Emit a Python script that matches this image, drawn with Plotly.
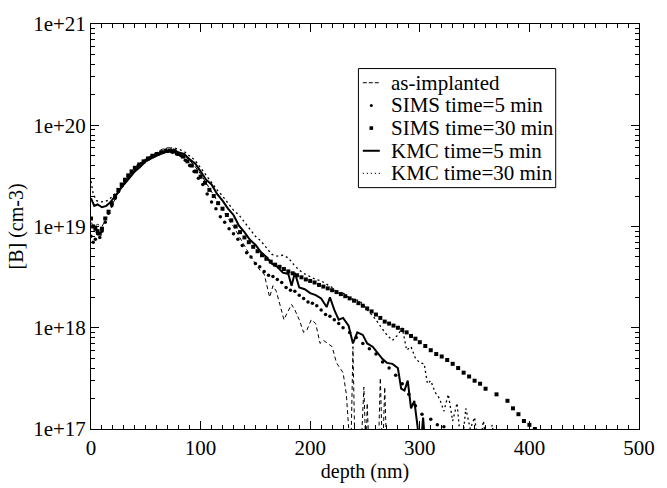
import plotly.graph_objects as go

# as-implanted profile (dashed)
implant_depth = [0, 3, 6, 10, 14, 18, 22, 26, 30, 35, 40, 45, 50, 55, 60, 65, 70, 75, 80, 85,
                 90, 95, 100, 105, 110, 115, 120, 125, 130, 135, 140, 145, 150, 155, 158, 161,
                 163, 166, 169, 173, 176, 179, 183, 186, 190, 194, 197, 201, 205, 209, 212, 216,
                 220, 224, 227, 230, 233, 235, 237, 239, 241, 246, 249, 251, 252, 254, 262, 264,
                 266, 268, 270, 285]
implant_conc = [1.1e19, 1.0e19, 1.05e19, 1.0e19, 1.2e19, 1.5e19, 1.9e19, 2.3e19, 2.7e19, 3.2e19,
                3.6e19, 4.1e19, 4.6e19, 5.0e19, 5.4e19, 5.8e19, 6.0e19, 5.9e19, 5.5e19, 5.0e19,
                4.5e19, 3.9e19, 3.3e19, 2.7e19, 2.2e19, 1.8e19, 1.45e19, 1.2e19, 1.0e19, 8.0e18,
                6.6e18, 5.2e18, 4.3e18, 3.6e18, 3.4e18, 2.4e18, 2.0e18, 2.6e18, 2.3e18, 1.6e18,
                1.2e18, 1.4e18, 1.7e18, 1.5e18, 1.2e18, 9e17, 9.5e17, 1.2e18, 1.1e18, 7e17,
                7.5e17, 7.0e17, 6.5e17, 4.5e17, 4e17, 3.6e17, 2.2e17, 1.2e17, 5e16, 6.5e17,
                5e16, 5e16, 2.6e17, 5e16, 1.8e17, 5e16, 5e16, 3.2e17, 5e16, 2.6e17, 5e16, 5e16]

# SIMS 5 min (small dots)
sims5_depth = [0, 2, 4, 6, 8, 10, 13, 16, 19, 22, 25, 28, 31, 34, 37, 40, 43, 46, 50, 54, 58,
               62, 66, 70, 74, 78, 82, 86, 90, 94, 98, 102, 106, 110, 114, 118, 122, 126, 130,
               134, 138, 142, 146, 150, 154, 158, 162, 166, 170, 174, 178, 182, 186, 190, 194,
               198, 202, 206, 210, 214, 218, 222, 226, 230, 236, 242, 248, 254, 260, 266, 272,
               278, 284, 290, 296, 302, 310, 316, 322]
sims5_conc = [8e18, 7e18, 7.5e18, 8.5e18, 7.8e18, 9e18, 1.1e19, 1.35e19, 1.6e19, 1.9e19, 2.2e19,
              2.5e19, 2.8e19, 3.1e19, 3.4e19, 3.7e19, 4.0e19, 4.2e19, 4.5e19, 4.8e19, 5.0e19,
              5.2e19, 5.4e19, 5.5e19, 5.4e19, 5.2e19, 5.0e19, 4.5e19, 4.0e19, 3.5e19, 3.0e19,
              2.6e19, 2.1e19, 1.75e19, 1.5e19, 1.25e19, 1.1e19, 9.5e18, 8.5e18, 7.5e18, 6.5e18,
              5.5e18, 5.0e18, 4.3e18, 4.0e18, 3.6e18, 3.3e18, 3.2e18, 3.0e18, 2.8e18, 2.5e18,
              2.35e18, 2.3e18, 2.1e18, 1.95e18, 1.8e18, 1.75e18, 1.65e18, 1.5e18, 1.35e18,
              1.3e18, 1.2e18, 1.1e18, 1.0e18, 9e17, 8e17, 7e17, 6.2e17, 5.5e17, 4.6e17, 4.0e17,
              3.4e17, 2.8e17, 2.2e17, 1.7e17, 1.4e17, 1.25e17, 1.1e17, 1.05e17]

# SIMS 30 min (squares)
sims30_depth = [0, 2, 4, 6, 8, 10, 13, 16, 19, 22, 25, 28, 31, 34, 37, 40, 44, 48, 52, 56, 60,
                64, 68, 72, 76, 80, 84, 88, 92, 96, 100, 104, 108, 112, 116, 120, 124, 128, 132,
                136, 140, 144, 148, 152, 156, 160, 164, 168, 172, 176, 180, 184, 188, 192, 196,
                200, 204, 208, 212, 216, 220, 224, 228, 232, 236, 240, 244, 248, 252, 256, 260,
                264, 268, 272, 276, 280, 284, 288, 292, 296, 300, 305, 310, 315, 320, 325, 330,
                335, 340, 345, 350, 355, 360, 370, 380, 385, 390, 395, 400, 405]
sims30_conc = [1.2e19, 1.0e19, 9.5e18, 9.0e18, 8.5e18, 9.5e18, 1.2e19, 1.4e19, 1.7e19, 2.0e19,
               2.3e19, 2.6e19, 2.9e19, 3.2e19, 3.5e19, 3.8e19, 4.1e19, 4.4e19, 4.7e19, 5.0e19,
               5.2e19, 5.4e19, 5.6e19, 5.6e19, 5.5e19, 5.2e19, 4.9e19, 4.4e19, 4.0e19, 3.5e19,
               3.1e19, 2.7e19, 2.3e19, 2.0e19, 1.7e19, 1.5e19, 1.3e19, 1.15e19, 1.0e19, 8.8e18,
               7.8e18, 7.0e18, 6.3e18, 5.7e18, 5.2e18, 4.8e18, 4.5e18, 4.2e18, 4.0e18, 3.8e18,
               3.6e18, 3.45e18, 3.3e18, 3.15e18, 3.0e18, 2.9e18, 2.8e18, 2.65e18, 2.55e18,
               2.45e18, 2.35e18, 2.25e18, 2.15e18, 2.05e18, 1.95e18, 1.85e18, 1.75e18, 1.65e18,
               1.55e18, 1.45e18, 1.35e18, 1.25e18, 1.15e18, 1.1e18, 1.05e18, 1.0e18, 9.5e17,
               9.0e17, 8.3e17, 7.8e17, 7.2e17, 6.6e17, 6.0e17, 5.5e17, 5.2e17, 4.8e17, 4.4e17,
               4.0e17, 3.6e17, 3.3e17, 3.0e17, 2.8e17, 2.5e17, 2.2e17, 1.9e17, 1.6e17, 1.4e17,
               1.2e17, 1.1e17, 1.0e17]

# KMC 5 min (solid)
kmc5_depth = [0, 3, 6, 10, 14, 18, 22, 26, 30, 35, 40, 45, 50, 55, 60, 65, 70, 75, 80, 85, 90,
              95, 100, 105, 110, 115, 120, 125, 130, 135, 140, 145, 150, 155, 160, 165, 170, 175,
              180, 183, 186, 190, 195, 200, 205, 210, 215, 218, 222, 226, 230, 235, 239, 243,
              248, 252, 257, 262, 266, 270, 275, 280, 283, 286, 289, 292, 295, 298, 300, 303, 306]
kmc5_conc = [1.9e19, 1.6e19, 1.65e19, 1.55e19, 1.6e19, 1.75e19, 2.0e19, 2.3e19, 2.6e19, 3.0e19,
             3.5e19, 3.9e19, 4.4e19, 4.7e19, 5.0e19, 5.3e19, 5.5e19, 5.7e19, 5.4e19, 5.2e19,
             4.6e19, 4.2e19, 3.5e19, 2.9e19, 2.6e19, 2.1e19, 1.8e19, 1.5e19, 1.3e19, 1.02e19,
             8.8e18, 7.4e18, 6.6e18, 5.6e18, 5.0e18, 4.3e18, 4.0e18, 3.5e18, 3.4e18, 2.6e18,
             3.5e18, 2.5e18, 2.4e18, 2.2e18, 2.1e18, 1.95e18, 1.6e18, 2.0e18, 1.5e18, 1.2e18,
             1.25e18, 1.05e18, 7e17, 9e17, 8.5e17, 7e17, 6.5e17, 5.5e17, 4.9e17, 4.5e17,
             4.4e17, 4.0e17, 2.5e17, 2.4e17, 3.0e17, 1.6e17, 1.9e17, 1.05e17, 5e16, 1.3e17, 5e16]

# KMC 30 min (dotted)
kmc30_depth = [0, 2, 5, 10, 15, 20, 25, 30, 35, 40, 45, 50, 55, 60, 65, 70, 75, 80, 85, 90, 95,
               100, 105, 110, 115, 120, 125, 130, 135, 140, 145, 150, 155, 160, 165, 170, 175,
               180, 185, 190, 195, 200, 205, 210, 215, 220, 225, 230, 235, 240, 245, 250, 255,
               260, 265, 270, 275, 280, 284, 288, 292, 296, 300, 304, 307, 310, 314, 318, 322,
               326, 330, 334, 338, 342, 346, 350, 354, 358, 362, 366, 370]
kmc30_conc = [2.8e19, 2.1e19, 1.8e19, 1.75e19, 1.8e19, 2.0e19, 2.3e19, 2.7e19, 3.1e19, 3.6e19,
              4.1e19, 4.5e19, 4.9e19, 5.3e19, 5.6e19, 5.9e19, 6.0e19, 5.8e19, 5.5e19, 5.0e19,
              4.5e19, 3.8e19, 3.2e19, 2.7e19, 2.3e19, 2.0e19, 1.7e19, 1.45e19, 1.3e19, 1.1e19,
              9.5e18, 8.0e18, 7.2e18, 6.2e18, 5.3e18, 5.1e18, 5.2e18, 4.9e18, 4.2e18, 3.7e18,
              3.4e18, 3.2e18, 3.0e18, 2.9e18, 2.7e18, 2.5e18, 2.2e18, 2.2e18, 2.0e18, 1.9e18,
              1.85e18, 1.6e18, 1.4e18, 1.2e18, 1.0e18, 8.5e17, 7.5e17, 8.5e17, 1.0e18, 6e17,
              6.5e17, 5e17, 4.5e17, 4.4e17, 2.8e17, 3.0e17, 2.3e17, 2.0e17, 1.5e17, 2.2e17,
              1.2e17, 1.8e17, 6e16, 1.6e17, 1.0e17, 1.3e17, 6e16, 1.2e17, 6e16, 1.1e17, 6e16]

y_tickvals = [1e17, 1e18, 1e19, 1e20, 1e21]
y_ticktext = ["1e+17", "1e+18", "1e+19", "1e+20", "1e+21"]

legend_names = ["as-implanted", "SIMS time=5 min", "SIMS time=30 min",
                "KMC time=5 min", "KMC time=30 min"]

serif = "Liberation Serif"

fig = go.Figure()

fig.add_trace(go.Scatter(x=implant_depth, y=implant_conc, mode="lines", name=legend_names[0],
                         line=dict(color="black", width=1, dash="4px,3px")))
fig.add_trace(go.Scatter(x=sims5_depth, y=sims5_conc, mode="markers", name=legend_names[1],
                         marker=dict(color="black", size=3.5, symbol="circle")))
fig.add_trace(go.Scatter(x=sims30_depth, y=sims30_conc, mode="markers", name=legend_names[2],
                         marker=dict(color="black", size=4, symbol="square")))
fig.add_trace(go.Scatter(x=kmc5_depth, y=kmc5_conc, mode="lines", name=legend_names[3],
                         line=dict(color="black", width=2)))
fig.add_trace(go.Scatter(x=kmc30_depth, y=kmc30_conc, mode="lines", name=legend_names[4],
                         line=dict(color="black", width=1.3, dash="2px,3px")))

# hand-made legend box
box_x0, box_x1 = 0.488, 0.848
box_y0, box_y1 = 0.596, 0.890
row_y = [0.855, 0.799, 0.743, 0.687, 0.631]
sample_x0, sample_x1 = 0.496, 0.527
text_x = 0.546

fig.add_shape(type="rect", xref="paper", yref="paper", x0=box_x0, x1=box_x1, y0=box_y0, y1=box_y1,
              line=dict(color="black", width=1), fillcolor="white", layer="above")
fig.add_shape(type="line", xref="paper", yref="paper", x0=sample_x0, x1=sample_x1,
              y0=row_y[0], y1=row_y[0], line=dict(color="black", width=1, dash="4px,2px"))
mid = (sample_x0 + sample_x1) / 2
fig.add_shape(type="circle", xref="paper", yref="paper", xsizemode="pixel", ysizemode="pixel",
              xanchor=mid, yanchor=row_y[1], x0=-1.5, x1=1.5, y0=-1.5, y1=1.5,
              fillcolor="black", line=dict(color="black", width=0))
fig.add_shape(type="rect", xref="paper", yref="paper", xsizemode="pixel", ysizemode="pixel",
              xanchor=mid, yanchor=row_y[2], x0=-1.8, x1=1.8, y0=-1.8, y1=1.8,
              fillcolor="black", line=dict(color="black", width=0))
fig.add_shape(type="line", xref="paper", yref="paper", x0=sample_x0, x1=sample_x1,
              y0=row_y[3], y1=row_y[3], line=dict(color="black", width=2))
fig.add_shape(type="line", xref="paper", yref="paper", x0=sample_x0, x1=sample_x1,
              y0=row_y[4], y1=row_y[4], line=dict(color="black", width=1.2, dash="1px,3px"))
for name, ry in zip(legend_names, row_y):
    fig.add_annotation(x=text_x, y=ry, xref="paper", yref="paper", text=name, showarrow=False,
                       xanchor="left", yanchor="middle", borderpad=0,
                       font=dict(family=serif, size=21))

fig.update_layout(
    width=667, height=488,
    margin=dict(l=91, r=19, t=17, b=41),
    paper_bgcolor="white", plot_bgcolor="white",
    font=dict(family=serif, size=21, color="black"),
    showlegend=False,
)

fig.update_xaxes(
    range=[0, 500], dtick=100, showgrid=False, zeroline=False,
    showline=True, linecolor="black", linewidth=1, mirror="ticks",
    ticks="inside", ticklen=8, tickcolor="black",
    minor=dict(ticks="inside", ticklen=4, dtick=10, tickcolor="black", showgrid=False),
    title=dict(text="depth (nm)", standoff=2, font=dict(size=20)),
    tickfont=dict(size=21),
)
fig.update_yaxes(
    type="log", range=[17, 21], showgrid=False, zeroline=False,
    tickvals=y_tickvals, ticktext=y_ticktext,
    showline=True, linecolor="black", linewidth=1, mirror="ticks",
    ticks="inside", ticklen=8, tickcolor="black",
    minor=dict(ticks="inside", ticklen=4, dtick="D1", tickcolor="black", showgrid=False),
    title=dict(text="[B] (cm-3)", standoff=4, font=dict(size=20)),
    tickfont=dict(size=21),
)

fig.write_html("out.html", config={"displayModeBar": False},
               post_script="document.body.style.margin='0';document.body.style.overflow='hidden';")
